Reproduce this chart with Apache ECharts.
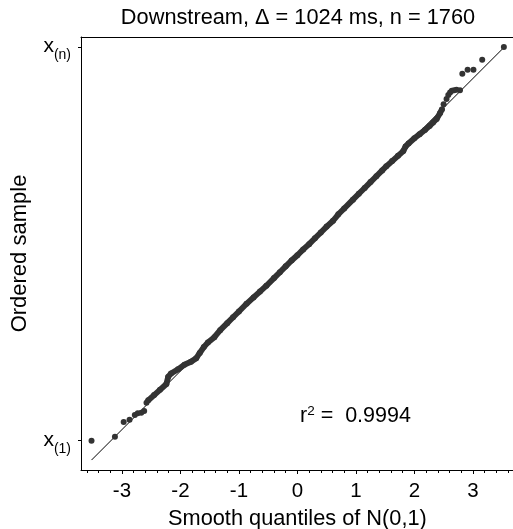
<!DOCTYPE html>
<html>
<head>
<meta charset="utf-8">
<script src="https://cdn.jsdelivr.net/npm/echarts@6/dist/echarts.min.js"></script>
<style>html,body{margin:0;padding:0;background:#fff}#c{width:513px;height:529px}</style>
</head>
<body>
<div id="c"></div>
<script>
// ---- data ----
const titleText = 'Downstream, \u0394 = 1024 ms, n = 1760';
const xName = 'Smooth quantiles of N(0,1)';
const yName = 'Ordered sample';
const r2Text = '0.9994';

const xMajorTicks = [-3, -2, -1, 0, 1, 2, 3];
const xMinorTicks = [-3.6, -3.4, -3.2, -3.0, -2.8, -2.6, -2.4, -2.2, -2.0, -1.8, -1.6, -1.4, -1.2, -1.0, -0.8, -0.6, -0.4, -0.2, 0, 0.2, 0.4, 0.6, 0.8, 1.0, 1.2, 1.4, 1.6, 1.8, 2.0, 2.2, 2.4, 2.6, 2.8, 3.0, 3.2, 3.4, 3.6];
const yTickValues = [-3.19, 3.54];
const yTickSubs = ['(1)', '(n)'];

const lowTailQ = [-3.52, -3.12, -2.97, -2.87, -2.78, -2.73, -2.67, -2.62, -2.58];
const lowTailV = [-3.19, -3.12, -2.87, -2.83, -2.75, -2.72, -2.71, -2.68, -2.54];

const bodyQ = [-2.55, -2.45, -2.35, -2.24, -2.21, -2.16, -2.04, -1.93, -1.82, -1.73, -1.67, -1.60, -1.53, -1.42, -1.32, -1.20, -1.10, -1.00, -0.87, -0.75, -0.64, -0.53, -0.40, -0.30, -0.20, -0.10, 0.00, 0.10, 0.20, 0.30, 0.40, 0.50, 0.61, 0.70, 0.80, 0.95, 1.05, 1.15, 1.25, 1.35, 1.45, 1.52, 1.62, 1.72, 1.81, 1.85, 1.90, 2.00, 2.09, 2.18, 2.26, 2.32, 2.38, 2.44, 2.47];
const bodyV = [-2.50, -2.41, -2.32, -2.22, -2.10, -2.04, -1.97, -1.89, -1.84, -1.78, -1.69, -1.59, -1.51, -1.42, -1.30, -1.18, -1.08, -0.98, -0.85, -0.74, -0.64, -0.54, -0.41, -0.31, -0.21, -0.11, -0.02, 0.08, 0.17, 0.27, 0.37, 0.47, 0.57, 0.68, 0.78, 0.93, 1.03, 1.13, 1.23, 1.33, 1.43, 1.50, 1.59, 1.68, 1.76, 1.84, 1.89, 1.98, 2.05, 2.12, 2.19, 2.25, 2.31, 2.41, 2.47];

const highTailQ = [2.50, 2.55, 2.58, 2.61, 2.64, 2.68, 2.72, 2.78, 2.82, 2.91, 3.01, 3.16, 3.53];
const highTailV = [2.56, 2.65, 2.72, 2.76, 2.79, 2.80, 2.81, 2.80, 3.08, 3.15, 3.15, 3.32, 3.54];

const refQ = [-3.52, 3.54];
const refV = [-3.52, 3.54];

// ---- build ----
const zip = (a, b) => a.map((v, i) => [v, b[i]]);
const FONT = 'Liberation Sans, Arial, Helvetica, sans-serif';
const DOT = '#333333';

const chart = echarts.init(document.getElementById('c'), null, {renderer: 'canvas'});
chart.setOption({
  animation: false,
  backgroundColor: '#ffffff',
  grid: {left: 81, top: 37, width: 432.8, height: 433, containLabel: false, outerBoundsMode: 'none'},
  xAxis: [
    {
      type: 'value', position: 'bottom', min: -3.7, max: 3.7,
      name: xName, nameLocation: 'middle', nameGap: 38,
      nameTextStyle: {fontFamily: FONT, fontSize: 21.75, color: '#000'},
      axisLine: {show: true, onZero: false, lineStyle: {color: '#000', width: 1}},
      axisTick: {show: true, inside: false, length: 4, customValues: xMajorTicks, lineStyle: {color: '#000'}},
      axisLabel: {show: true, margin: 11, customValues: xMajorTicks, fontFamily: FONT, fontSize: 20.5, color: '#000'},
      splitLine: {show: false}
    },
    {
      type: 'value', position: 'bottom', min: -3.7, max: 3.7,
      axisLine: {show: false, onZero: false},
      axisTick: {show: true, inside: false, length: 3, customValues: xMinorTicks, lineStyle: {color: '#000'}},
      axisLabel: {show: false},
      splitLine: {show: false}
    },
    {
      type: 'value', position: 'top', min: -3.7, max: 3.7,
      axisLine: {show: true, onZero: false, lineStyle: {color: '#000', width: 1}},
      axisTick: {show: false}, axisLabel: {show: false}, splitLine: {show: false}
    }
  ],
  yAxis: {
    type: 'value', min: -3.69, max: 3.71,
    name: yName, nameLocation: 'middle', nameGap: 50, nameRotate: 90,
    nameTextStyle: {fontFamily: FONT, fontSize: 22, color: '#000'},
    axisLine: {show: true, onZero: false, lineStyle: {color: '#000', width: 1}},
    axisTick: {show: true, inside: false, length: 3, customValues: yTickValues, lineStyle: {color: '#000'}},
    axisLabel: {
      show: true, margin: 10, customValues: yTickValues,
      formatter: function (v) {
        const i = yTickValues.indexOf(v);
        return '{x|x}{s|' + (i >= 0 ? yTickSubs[i] : '') + '}';
      },
      rich: {
        x: {fontFamily: FONT, fontSize: 21, color: '#000', verticalAlign: 'bottom', lineHeight: 20},
        s: {fontFamily: FONT, fontSize: 14, color: '#000', verticalAlign: 'bottom', lineHeight: 12, padding: [0, 0, -5, 0]}
      }
    },
    splitLine: {show: false}
  },
  graphic: [
    {type: 'text', x: 298, y: 18, style: {text: titleText, fontFamily: FONT, fontSize: 21.75, fill: '#000', textAlign: 'center', textVerticalAlign: 'middle'}},
    {type: 'text', x: 300, y: 416, style: {text: '{r|r}{p|2}{r| =  ' + r2Text + '}', textVerticalAlign: 'middle', rich: {
      r: {fontFamily: FONT, fontSize: 21.5, fill: '#000'},
      p: {fontFamily: FONT, fontSize: 13.5, fill: '#000', verticalAlign: 'top', padding: [0, 0, 10, 0]}
    }}}
  ],
  series: [
    {
      type: 'line', data: zip(refQ, refV), xAxisIndex: 0, showSymbol: false, symbol: 'none',
      lineStyle: {color: '#000', width: 1}, z: 1, silent: true
    },
    {
      type: 'line', data: zip(bodyQ, bodyV), xAxisIndex: 0, symbol: 'circle', symbolSize: 6, showSymbol: true,
      itemStyle: {color: DOT, opacity: 1}, lineStyle: {color: DOT, width: 5.8, cap: 'round', join: 'round'}, z: 2, silent: true
    },
    {
      type: 'scatter', data: zip(lowTailQ, lowTailV).concat(zip(highTailQ, highTailV)), xAxisIndex: 0,
      symbol: 'circle', symbolSize: 6, itemStyle: {color: DOT, opacity: 1}, z: 3, silent: true
    }
  ]
});
</script>
</body>
</html>
